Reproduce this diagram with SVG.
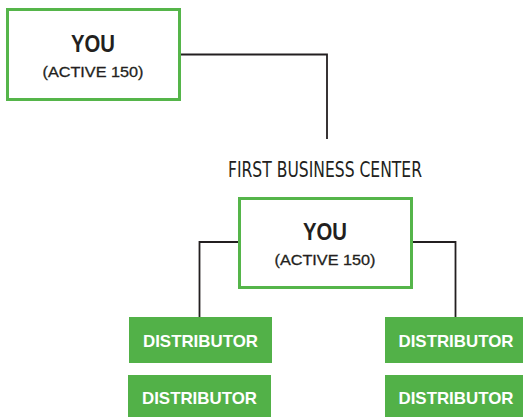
<svg xmlns="http://www.w3.org/2000/svg" width="523" height="417" viewBox="0 0 523 417">
<style>
.box{fill:#fff;stroke:#55b54a;stroke-width:3}
.dist{fill:#52b148}
.conn{fill:none;stroke:#231f20;stroke-width:1.8}
.you{font-family:"Liberation Sans",Arial,sans-serif;font-weight:bold;font-size:24px;fill:#231f20;text-anchor:middle}
.act{font-family:"Liberation Sans",Arial,sans-serif;font-size:15px;fill:#231f20;text-anchor:middle;stroke:#231f20;stroke-width:0.3}
.dt{font-family:"Liberation Sans",Arial,sans-serif;font-weight:bold;font-size:17px;fill:#fff;text-anchor:middle}
.title{font-family:"Liberation Sans Narrow","DejaVu Sans Condensed","Liberation Sans",sans-serif;font-size:21px;fill:#231f20;text-anchor:middle}
</style>
<rect width="523" height="417" fill="#fff"/>
<g id="connectors">
<polyline class="conn" points="181,54.5 327,54.5 327,139"/>
<polyline class="conn" points="238,242 199.5,242 199.5,317"/>
<polyline class="conn" points="413,242 455.5,242 455.5,317"/>
</g>
<g id="you-top">
<rect class="box" x="7.5" y="9.5" width="172" height="90"/>
<text class="you" x="93" y="52" textLength="44" lengthAdjust="spacingAndGlyphs">YOU</text>
<text class="act" x="93" y="77" textLength="101" lengthAdjust="spacingAndGlyphs">(ACTIVE 150)</text>
</g>
<g id="title">
<text class="title" x="325" y="177" textLength="194" lengthAdjust="spacingAndGlyphs">FIRST BUSINESS CENTER</text>
</g>
<g id="you-center">
<rect class="box" x="239.5" y="198.5" width="172" height="89"/>
<text class="you" x="325" y="240" textLength="44" lengthAdjust="spacingAndGlyphs">YOU</text>
<text class="act" x="325" y="265" textLength="101" lengthAdjust="spacingAndGlyphs">(ACTIVE 150)</text>
</g>
<g id="dist-l1">
<rect class="dist" x="129" y="317" width="143" height="46"/>
<text class="dt" x="200.5" y="347" textLength="115" lengthAdjust="spacingAndGlyphs">DISTRIBUTOR</text>
</g>
<g id="dist-l2">
<rect class="dist" x="128" y="375" width="143" height="42"/>
<text class="dt" x="199.5" y="404" textLength="115" lengthAdjust="spacingAndGlyphs">DISTRIBUTOR</text>
</g>
<g id="dist-r1">
<rect class="dist" x="385" y="317" width="138" height="46"/>
<text class="dt" x="456" y="347" textLength="115" lengthAdjust="spacingAndGlyphs">DISTRIBUTOR</text>
</g>
<g id="dist-r2">
<rect class="dist" x="385" y="375" width="138" height="42"/>
<text class="dt" x="456" y="404" textLength="115" lengthAdjust="spacingAndGlyphs">DISTRIBUTOR</text>
</g>
</svg>
